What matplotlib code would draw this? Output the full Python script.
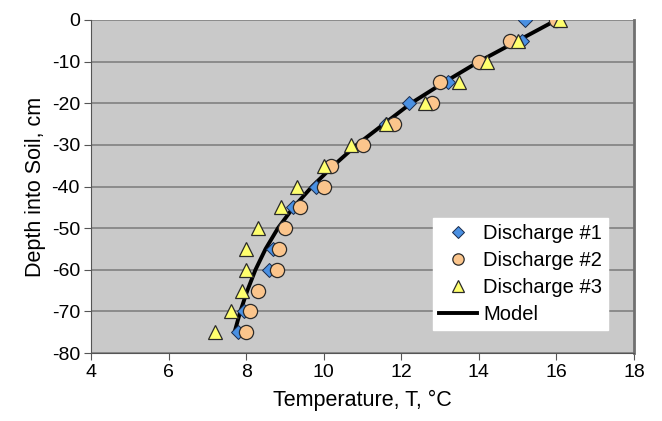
import matplotlib
matplotlib.use('Agg')
import matplotlib.pyplot as plt

plt.rcParams['font.family'] = ['Liberation Sans', 'DejaVu Sans']
plt.rcParams['axes.unicode_minus'] = False

# Tiefen (cm) und Temperaturen (°C)
depth = [0, -5, -10, -15, -20, -25, -30, -35, -40, -45, -50, -55, -60, -65, -70, -75]
temp_d1 = [15.2, 15.1, 14.0, 13.2, 12.2, 11.6, 11.0, 10.2, 9.8, 9.2, 9.0, 8.7, 8.6, 8.3, 7.95, 7.8]
temp_d2 = [16.0, 14.8, 14.0, 13.0, 12.8, 11.8, 11.0, 10.2, 10.0, 9.4, 9.0, 8.85, 8.8, 8.3, 8.1, 8.0]
temp_d3 = [16.1, 15.0, 14.2, 13.5, 12.6, 11.6, 10.7, 10.0, 9.3, 8.9, 8.3, 8.0, 8.0, 7.9, 7.6, 7.2]
temp_model = [16.0, 15.0, 14.0, 13.1, 12.25, 11.55, 10.85, 10.25, 9.7, 9.22, 8.82, 8.5, 8.24, 8.03, 7.85, 7.7]

fig, ax = plt.subplots(figsize=(6.62, 4.21), dpi=100)
fig.subplots_adjust(left=0.1375, right=0.9577, top=0.9525, bottom=0.1615)

ax.set_facecolor('#c9c9c9')
ax.grid(axis='y', color='#868686', linewidth=1.3)
ax.set_axisbelow(True)

ax.plot(temp_model, depth, color='black', linewidth=2.8, zorder=2, label='Model',
        solid_joinstyle='round')
ax.plot(temp_d1, depth, linestyle='none', marker='D', markersize=7.2, markerfacecolor='#4a90e2',
        markeredgecolor='#1a2a4a', markeredgewidth=0.7, zorder=3, label='Discharge #1')
ax.plot(temp_d2, depth, linestyle='none', marker='o', markersize=10.2, markerfacecolor='#fbc58c',
        markeredgecolor='#2a2a2a', markeredgewidth=0.9, zorder=4, label='Discharge #2')
ax.plot(temp_d3, depth, linestyle='none', marker='^', markersize=10.2, markerfacecolor='#ffff6e',
        markeredgecolor='#2a2a2a', markeredgewidth=0.9, zorder=5, label='Discharge #3')

ax.set_xlim(4, 18)
ax.set_ylim(-80, 0)
ax.set_xticks(range(4, 19, 2))
ax.set_yticks(range(-80, 1, 10))
ax.tick_params(labelsize=14, direction='out', length=5, color='#555555', pad=3)

ax.spines['top'].set_visible(False)
ax.spines['left'].set_color('#555555')
ax.spines['bottom'].set_color('#555555')
ax.spines['right'].set_color('#707070')
ax.spines['right'].set_linewidth(2)

ax.set_xlabel('Temperature, T, °C', fontsize=15.5, labelpad=6)
ax.set_ylabel('Depth into Soil, cm', fontsize=15.5, labelpad=4)

handles, labels = ax.get_legend_handles_labels()
order = [1, 2, 3, 0]
leg = ax.legend([handles[i] for i in order], [labels[i] for i in order],
                loc='lower right', bbox_to_anchor=(0.952, 0.069), borderaxespad=0,
                fontsize=14.5, frameon=True, fancybox=False, framealpha=1,
                edgecolor='white', facecolor='white', handlelength=1.9,
                handletextpad=0.3, labelspacing=0.4, borderpad=0.3, markerscale=0.8)

plt.savefig('out.png', dpi=100)
